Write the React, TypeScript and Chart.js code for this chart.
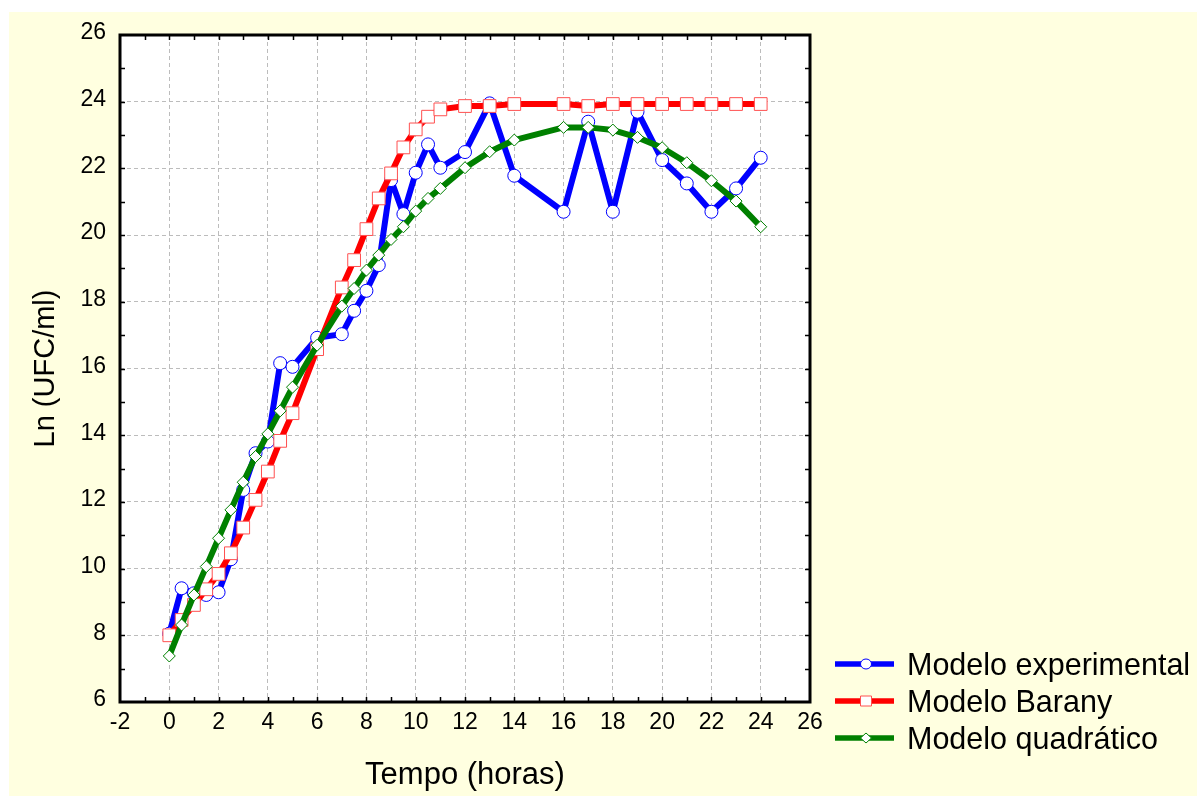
import { useEffect, useRef } from 'react';
import { Chart, registerables } from 'chart.js';

Chart.register(...registerables);

const hours = [0, 0.5, 1, 1.5, 2, 2.5, 3, 3.5, 4, 4.5, 5, 6, 7, 7.5, 8, 8.5, 9, 9.5, 10, 10.5, 11, 12, 13, 14, 16, 17, 18, 19, 20, 21, 22, 23, 24];
const experimental = [8.05, 9.41, 9.26, 9.21, 9.29, 10.28, 12.36, 13.46, 13.81, 16.16, 16.05, 16.92, 17.03, 17.73, 18.33, 19.1, 21.65, 20.63, 21.87, 22.72, 22.02, 22.49, 23.95, 21.78, 20.7, 23.4, 20.7, 23.7, 22.25, 21.55, 20.7, 21.4, 22.32];
const barany = [8.0, 8.46, 8.91, 9.38, 9.84, 10.46, 11.23, 12.06, 12.91, 13.83, 14.66, 16.58, 18.43, 19.25, 20.18, 21.1, 21.85, 22.63, 23.17, 23.55, 23.77, 23.87, 23.87, 23.93, 23.93, 23.87, 23.93, 23.93, 23.93, 23.93, 23.93, 23.93, 23.93];
const quadratic = [7.38, 8.31, 9.21, 10.06, 10.91, 11.76, 12.59, 13.36, 14.04, 14.73, 15.44, 16.7, 17.87, 18.4, 18.95, 19.4, 19.87, 20.25, 20.72, 21.1, 21.4, 22.02, 22.5, 22.85, 23.23, 23.23, 23.15, 22.93, 22.62, 22.17, 21.63, 21.02, 20.25];

const seriesNames = ['Modelo experimental', 'Modelo Barany', 'Modelo quadrático'];
const xTicks = [-2, 0, 2, 4, 6, 8, 10, 12, 14, 16, 18, 20, 22, 24, 26];
const yTicks = [6, 8, 10, 12, 14, 16, 18, 20, 22, 24, 26];
const xTitle = 'Tempo (horas)';
const yTitle = 'Ln (UFC/ml)';

const FONT = '"Liberation Sans", Arial, Helvetica, sans-serif';

export default function App() {
  const ref = useRef<HTMLCanvasElement | null>(null);

  useEffect(() => {
    if (!ref.current) return;
    const toPts = (ys: number[]) => hours.map((h, i) => ({ x: h, y: ys[i] }));

    const bgPlugin = {
      id: 'bg',
      beforeDraw(chart: any) {
        const { ctx, chartArea: a, width, height } = chart;
        ctx.save();
        ctx.fillStyle = '#ffffff';
        ctx.fillRect(0, 0, width, height);
        ctx.fillStyle = '#ffffe0';
        ctx.fillRect(9, 12, width - 9, height - 12);
        ctx.fillStyle = '#ffffff';
        ctx.fillRect(a.left, a.top, a.right - a.left, a.bottom - a.top);
        ctx.restore();
      },
    };

    const framePlugin = {
      id: 'frame',
      afterDraw(chart: any) {
        const { ctx, chartArea: a, scales } = chart;
        const xs = scales.x;
        const ys = scales.y;
        ctx.save();
        ctx.strokeStyle = '#000000';
        ctx.lineWidth = 1.5;
        ctx.beginPath();
        for (let v = xs.min + 1; v < xs.max; v += 1) {
          const px = Math.round(xs.getPixelForValue(v)) + 0.5;
          ctx.moveTo(px, a.bottom);
          ctx.lineTo(px, a.bottom - 5);
          ctx.moveTo(px, a.top);
          ctx.lineTo(px, a.top + 5);
        }
        for (let v = ys.min + 1; v < ys.max; v += 1) {
          const py = Math.round(ys.getPixelForValue(v)) + 0.5;
          ctx.moveTo(a.left, py);
          ctx.lineTo(a.left + 5, py);
          ctx.moveTo(a.right, py);
          ctx.lineTo(a.right - 5, py);
        }
        ctx.stroke();
        ctx.lineWidth = 3;
        ctx.strokeRect(a.left, a.top, a.right - a.left, a.bottom - a.top);

        // legend
        const rows = [664, 701, 738];
        chart.data.datasets.forEach((ds: any, i: number) => {
          const y = rows[i];
          ctx.strokeStyle = ds.borderColor;
          ctx.lineWidth = 5.5;
          ctx.beginPath();
          ctx.moveTo(835, y);
          ctx.lineTo(894, y);
          ctx.stroke();
          ctx.fillStyle = '#ffffff';
          ctx.strokeStyle = ds.pointBorderColor;
          ctx.lineWidth = 1;
          ctx.beginPath();
          const cx = 866;
          if (ds.pointStyle === 'circle') {
            ctx.ellipse(cx, y, 5.5, 5, 0, 0, Math.PI * 2);
          } else if (ds.pointStyle === 'rect') {
            ctx.rect(cx - 5.5, y - 5, 11, 10);
          } else {
            ctx.moveTo(cx - 5.5, y);
            ctx.lineTo(cx, y - 5);
            ctx.lineTo(cx + 5.5, y);
            ctx.lineTo(cx, y + 5);
            ctx.closePath();
          }
          ctx.fill();
          ctx.stroke();
          ctx.fillStyle = '#000000';
          ctx.font = `30.5px ${FONT}`;
          ctx.textBaseline = 'alphabetic';
          ctx.textAlign = 'left';
          ctx.fillText(ds.label, 907, y + 11);
        });
        ctx.restore();
      },
    };

    const chart = new Chart(ref.current, {
      type: 'line',
      data: {
        datasets: [
          {
            label: seriesNames[0],
            data: toPts(experimental),
            borderColor: '#0000ff',
            borderWidth: 6,
            borderJoinStyle: 'round',
            pointStyle: 'circle',
            pointRadius: 6.5,
            pointBackgroundColor: '#ffffff',
            pointBorderColor: '#0000ff',
            pointBorderWidth: 1,
            order: 2,
          },
          {
            label: seriesNames[1],
            data: toPts(barany),
            borderColor: '#ff0000',
            borderWidth: 6,
            borderJoinStyle: 'round',
            pointStyle: 'rect',
            pointRadius: 9,
            pointBackgroundColor: '#ffffff',
            pointBorderColor: '#ff5050',
            pointBorderWidth: 1,
            order: 1,
          },
          {
            label: seriesNames[2],
            data: toPts(quadratic),
            borderColor: '#008000',
            borderWidth: 6,
            borderJoinStyle: 'round',
            pointStyle: 'rectRot',
            pointRadius: 6,
            pointBackgroundColor: '#ffffff',
            pointBorderColor: '#008000',
            pointBorderWidth: 1,
            order: 0,
          },
        ],
      },
      options: {
        animation: false,
        responsive: false,
        devicePixelRatio: 1,
        parsing: false as any,
        layout: { padding: { left: 0, top: 35, right: 387, bottom: 0 } },
        plugins: {
          legend: { display: false },
          tooltip: { enabled: false },
        },
        scales: {
          x: {
            type: 'linear',
            min: -2,
            max: 26,
            afterBuildTicks: (s: any) => {
              s.ticks = xTicks.map((v) => ({ value: v }));
            },
            afterFit: (s: any) => {
              s.height = 94;
            },
            ticks: {
              color: '#000000',
              font: { size: 23, family: FONT },
              padding: 7,
              maxRotation: 0,
              autoSkip: false,
              callback: (v: any) => String(v),
            },
            grid: { color: '#bcbcbc', lineWidth: 1, drawTicks: false },
            border: { display: false, dash: [4, 3] },
            title: {
              display: true,
              text: xTitle,
              color: '#000000',
              font: { size: 31, family: FONT },
              padding: { top: 0, bottom: 2 },
            },
          },
          y: {
            type: 'linear',
            min: 6,
            max: 26,
            afterBuildTicks: (s: any) => {
              s.ticks = yTicks.map((v) => ({ value: v }));
            },
            afterFit: (s: any) => {
              s.width = 120;
            },
            ticks: {
              color: '#000000',
              font: { size: 23, family: FONT },
              padding: 14,
              labelOffset: -2,
              autoSkip: false,
              callback: (v: any) => String(v),
            },
            grid: { color: '#bcbcbc', lineWidth: 1, drawTicks: false },
            border: { display: false, dash: [4, 3] },
            title: {
              display: true,
              text: yTitle,
              color: '#000000',
              font: { size: 29, family: FONT },
              padding: { top: 29, bottom: 0 },
            },
          },
        },
      },
      plugins: [bgPlugin, framePlugin],
    } as any);

    return () => chart.destroy();
  }, []);

  return (
    <div style={{ position: 'fixed', left: 0, top: 0, width: 1197, height: 796 }}>
      <canvas ref={ref} width={1197} height={796} style={{ display: 'block' }} />
    </div>
  );
}
